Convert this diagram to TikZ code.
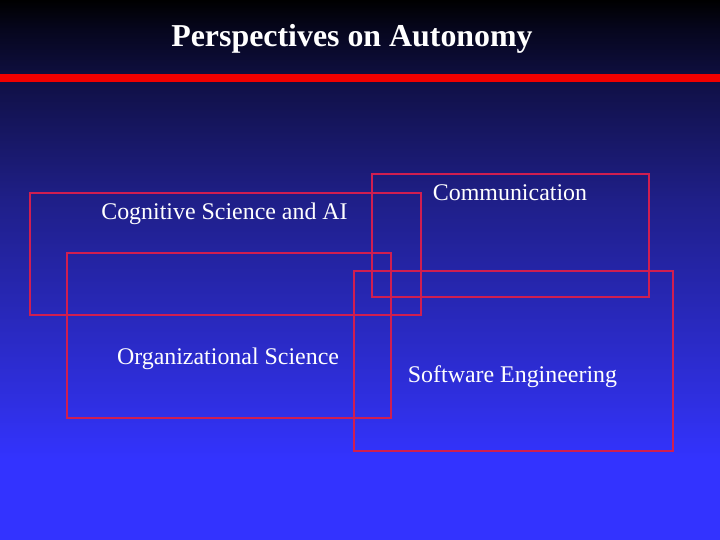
\documentclass[tikz,border=0pt]{standalone}
\usepackage{fontspec}
\setmainfont{Liberation Serif}
\usepackage{xcolor}
\definecolor{slideblue}{HTML}{3333FF}
\definecolor{bgA}{HTML}{06061E}
\definecolor{bgB}{HTML}{11114A}
\definecolor{bgC}{HTML}{1F1F88}
\definecolor{bgD}{HTML}{2727B4}
\definecolor{bgE}{HTML}{2F2FE0}
\definecolor{barred}{HTML}{F00000}
\definecolor{boxred}{HTML}{D01E50}
\pgfdeclareverticalshading{slidebg}{100bp}{color(0bp)=(slideblue); color(32.4bp)=(slideblue); color(38bp)=(bgE); color(47.2bp)=(bgD); color(56.5bp)=(bgC); color(66.7bp)=(bgB); color(72.2bp)=(bgA); color(75bp)=(black); color(100bp)=(black)}
\tikzset{
  areabox/.style={draw=boxred, line width=1.2bp},
  arealabel/.style={text=white, anchor=base, inner sep=0pt, font=\fontsize{24}{28}\selectfont},
  slidetitle/.style={text=white, anchor=base, inner sep=0pt, font=\fontsize{32}{38}\selectfont\bfseries}}

\begin{document}
\begin{tikzpicture}[x=1bp, y=-1bp]
\shade[shading=slidebg] (0,0) rectangle (720,540);
\useasboundingbox (0,0) rectangle (720,540);
\fill[barred] (0,74) rectangle (720,82);
\node[slidetitle] (title) at (352,47) {Perspectives on Autonomy};
% overlapping areas
\draw[areabox] (30,193) rectangle (421,315);
\draw[areabox] (67,253) rectangle (391,418);
\draw[areabox] (372,174) rectangle (649,297);
\draw[areabox] (354,271) rectangle (673,451);
\node[arealabel] (cogsci) at (224.5,220) {Cognitive Science and AI};
\node[arealabel] (orgsci) at (228,364) {Organizational Science};
\node[arealabel] (comm) at (510,200.5) {Communication};
\node[arealabel] (softeng) at (512.5,382) {Software Engineering};
\end{tikzpicture}
\end{document}
